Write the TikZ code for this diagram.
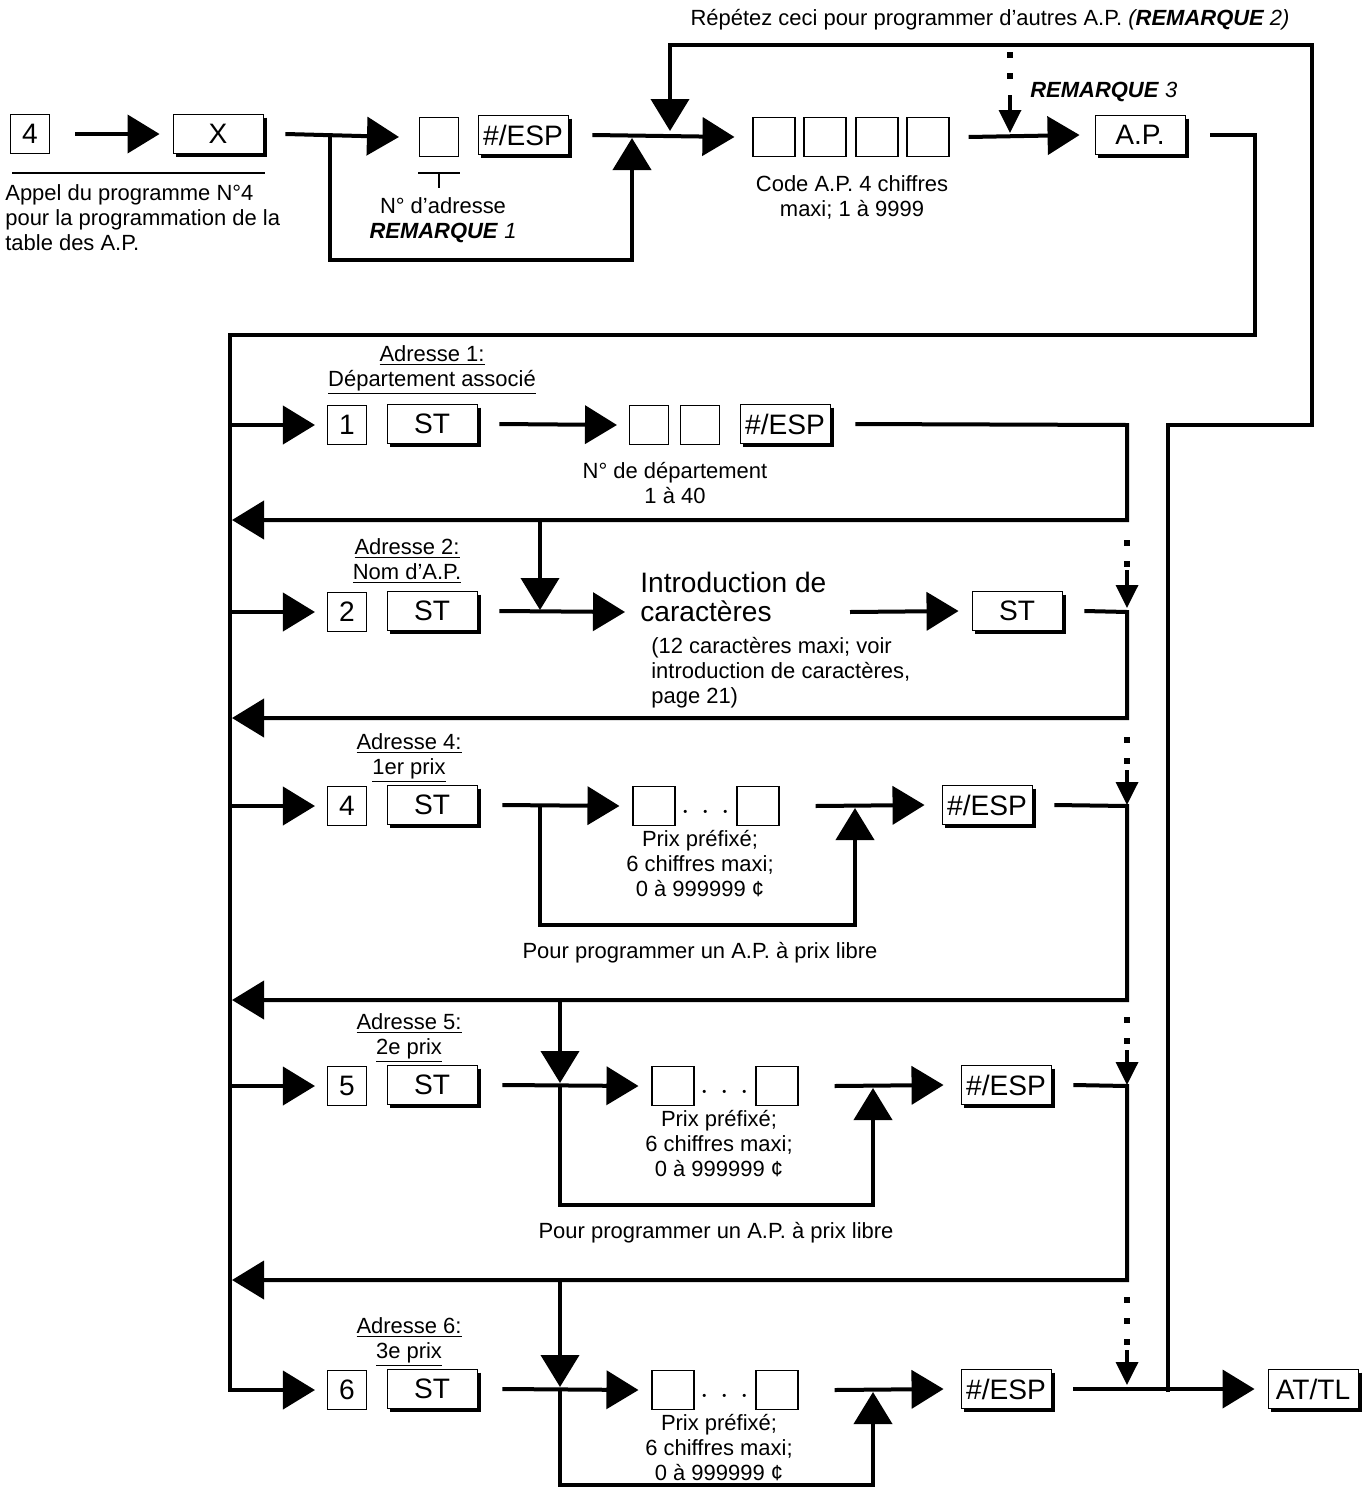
\documentclass[tikz,border=0pt]{standalone}
\usepackage{fontspec}
\setmainfont{Liberation Sans}
\usetikzlibrary{arrows.meta}
\tikzset{
    flow/.style={line width=0.8mm},
    arr/.style={flow,-{Triangle[length=6.4mm,width=7.6mm]}},
    sarr/.style={line width=0.7mm,-{Triangle[length=4.6mm,width=4.4mm]}},
    dotline/.style={line width=1.1mm,dash pattern=on 1.1mm off 3.1mm},
    key/.style={draw,line width=0.5pt,fill=white,minimum width=18mm,minimum height=7.8mm,inner sep=0pt,
        font=\fontsize{16}{16}\selectfont},
    keyshadow/.style={line width=0.7mm},
    entry/.style={draw,line width=0.6pt,minimum size=7.8mm,inner sep=0pt,font=\fontsize{16}{16}\selectfont},
    lbl/.style={font=\fontsize{12.5}{14.2}\selectfont,align=center,inner sep=0pt},
    dotsep/.style={font=\fontsize{16}{16}\selectfont,inner sep=0pt},
}
\begin{document}
\begin{tikzpicture}[x=0.2mm,y=-0.2mm]
    \useasboundingbox (0,0) rectangle (1368,1487);
    % program call
    \node[entry] (n4) at (30,134) {4};
    \node[key] (kx) at (218,134) {X};
    \draw[line width=0.4mm] (12,173) -- (265,173);
    \node[lbl,align=left,anchor=north west] (call) at (5,184) {Appel du programme N°4\\pour la programmation de la\\table des A.P.};
    \draw[arr] (75,134) -- ([xshift=-2.6mm]kx.west);
    \node[entry] (adr) at (439,137) {};
    \draw[line width=0.5mm] (418,173) -- (460,173) (439,173) -- (439,188);
    \node[lbl] (adrtxt) at (443,220) {N° d'adresse\\\textbf{\textit{REMARQUE}} \textit{1}};
    \node[key] (esp0) at (523,135) {\#/ESP};
    \draw[arr] ([xshift=4.4mm]kx.east) -- ([xshift=-4mm]adr.west);
    \draw[arr] (330,134) |- (632,260) -- (632,138);
    % A.P. code
    \foreach \x/\n in {774/c1,825/c2,877/c3,928/c4}
        \node[entry,minimum width=8.4mm] (\n) at (\x,137) {};
    \node[lbl] (codetxt) at (852,197) {Code A.P. 4 chiffres\\maxi; 1 à 9999};
    \draw[arr] ([xshift=4.8mm]esp0.east) -- ([xshift=-3.6mm]c1.west);
    \node[lbl] (rep) at (990,20) {Répétez ceci pour programmer d'autres A.P. \textit{(\textbf{REMARQUE} 2)}};
    \node[key] (ap) at (1140,135) {A.P.};
    \draw[arr] ([xshift=3.8mm]c4.east) -- ([xshift=-3mm]ap.west);
    \draw[dotline] (1010,52) -- (1010,92);
    \draw[sarr] (1010,95) -- (1010,133);
    \node[lbl,anchor=west] (rem3) at (1030,92) {\textbf{\textit{REMARQUE}} \textit{3}};
    \draw[flow] ([xshift=5mm]ap.east) -- (1255,135) -- (1255,335) -- (230,335) -- (230,1392);
    \draw[arr] (1168,1392) -- (1168,425) -- (1312,425) -- (1312,45) -- (670,45) -- (670,131);
    % address 1
    \node[lbl] (a1) at (432,370) {\underline{Adresse 1:}\\\underline{Département associé}};
    \node[entry] (e1) at (347,425) {1};
    \node[key] (st1) at (432,424) {ST};
    \node[entry] (d1) at (649,425) {};
    \node[entry] (d2) at (700,425) {};
    \node[key] (esp1) at (785,424) {\#/ESP};
    \node[lbl] (dtxt) at (675,483) {N° de département\\1 à 40};
    \draw[arr] (230,425) -- ([xshift=-2.4mm]e1.west);
    \draw[arr] ([xshift=4.4mm]st1.east) -- ([xshift=-2.4mm]d1.west);
    \draw[arr] ([xshift=5mm]esp1.east) -- (1127,425) -- (1127,520) -- (232,520);
    % address 2
    \node[lbl] (a2) at (407,561) {\underline{Adresse 2:}\\\underline{Nom d'A.P.}};
    \node[entry] (e2) at (347,612) {2};
    \node[key] (st2) at (432,611) {ST};
    \node[lbl,align=left,anchor=west,font=\fontsize{16}{17}\selectfont] (intro) at (640,597) {Introduction de\\caractères};
    \node[lbl,align=left,anchor=north west] (introsub) at (651,637) {(12 caractères maxi; voir\\introduction de caractères,\\page 21)};
    \node[key] (st2b) at (1017,611) {ST};
    \draw[arr] (540,520) -- (540,610);
    \draw[arr] (230,612) -- ([xshift=-2.4mm]e2.west);
    \draw[arr] ([xshift=4.4mm]st2.east) -- (625,612);
    \draw[arr] (850,612) -- ([xshift=-2.6mm]st2b.west);
    \draw[arr] ([xshift=4.4mm]st2b.east) -- (1127,612) -- (1127,718) -- (232,718);
    \draw[dotline] (1127,540) -- (1127,570);
    \draw[sarr] (1127,570) -- (1127,608);
    % address 4, 5, 6
    \foreach \r/\n/\y/\t/\bx/\ex/\dy in {4/4/806/1er prix/540/855/925,5/5/1086/2e prix/560/873/1205,6/6/1390/3e prix/560/873/1485}{
        \pgfmathsetmacro{\sh}{ifthenelse(\r==4,0,19)}
        \node[lbl] (a\r) at (409,\y-48) {\underline{Adresse \n:}\\\underline{\t}};
        \node[entry] (e\r) at (347,\y) {\n};
        \node[key] (st\r) at (432,\y-1) {ST};
        \node[entry,minimum width=8.4mm] (p\r) at (654+\sh,\y) {};
        \node[dotsep] (dots\r) at (706+\sh,\y+7) {$\cdot\,\cdot\,\cdot$};
        \node[entry,minimum width=8.4mm] (q\r) at (758+\sh,\y) {};
        \node[key] (esp\r) at (987+\sh,\y-1) {\#/ESP};
        \node[lbl] (prix\r) at (700+\sh,\y+58) {Prix préfixé;\\6 chiffres maxi;\\0 à 999999 ¢};
        \draw[arr] (230,\y) -- ([xshift=-2.4mm]e\r.west);
        \draw[arr] ([xshift=5mm]st\r.east) -- ([xshift=-2.6mm]p\r.west);
        \draw[arr] (\bx,\y) |- (\ex,\dy) -- (\ex,\y+2);
        \draw[arr] ([xshift=7.2mm]q\r.east) -- ([xshift=-3.4mm]esp\r.west);
    }
    \node[lbl] (libre4) at (700,953) {Pour programmer un A.P. à prix libre};
    \node[lbl] (libre5) at (716,1233) {Pour programmer un A.P. à prix libre};
    \draw[arr] ([xshift=4.4mm]esp4.east) -- (1127,806) -- (1127,1000) -- (232,1000);
    \draw[arr] ([xshift=4.4mm]esp5.east) -- (1127,1086) -- (1127,1280) -- (232,1280);
    \draw[arr] (560,1000) -- (560,1083);
    \draw[arr] (560,1280) -- (560,1387);
    \node[key] (attl) at (1313,1389) {AT/TL};
    \draw[arr] ([xshift=4.4mm]esp6.east) -- ([xshift=-2.6mm]attl.west);
    \foreach \ya/\yb in {737/770,1017/1050,1297/1350}{
        \draw[dotline] (1127,\ya) -- (1127,\yb);
        \draw[sarr] (1127,\yb) -- (1127,\yb+35);
    }
    % key shadows
    \foreach \k in {kx,esp0,ap,st1,esp1,st2,st2b,st4,esp4,st5,esp5,st6,esp6,attl}
        \draw[keyshadow] ([xshift=0.35mm,yshift=-0.7mm]\k.north east) |- ([xshift=0.7mm,yshift=-0.35mm]\k.south west);
\end{tikzpicture}
\end{document}
